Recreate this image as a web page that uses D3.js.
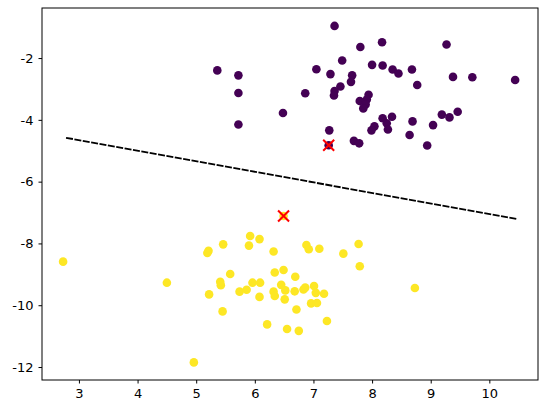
<!DOCTYPE html>
<html><head><meta charset="utf-8">
<script src="https://cdn.jsdelivr.net/npm/d3@7"></script>
<style>body{margin:0;background:#fff}text{font-family:"DejaVu Sans",sans-serif;font-size:13px}</style>
</head><body><div class="graphic"></div>
<script>
// cluster 0 (purple)
const purpleX = [7.36,7.80,8.17,9.27,5.36,5.72,5.72,5.72,7.05,7.29,7.49,8.00,8.18,8.35,8.45,8.68,8.77,9.38,9.71,10.44,6.86,7.66,7.64,7.46,7.36,7.35,7.94,7.91,7.79,7.89,7.85,6.48,8.18,8.34,8.25,8.27,8.69,8.04,7.99,7.27,9.19,9.32,9.46,9.04,8.64,8.94,7.69,7.78,7.26];
const purpleY = [-0.96,-1.64,-1.49,-1.56,-2.40,-2.56,-3.13,-4.15,-2.36,-2.52,-2.08,-2.22,-2.24,-2.37,-2.50,-2.37,-2.87,-2.61,-2.62,-2.71,-3.14,-2.56,-2.77,-2.92,-3.07,-3.21,-3.19,-3.34,-3.39,-3.50,-3.63,-3.78,-3.95,-3.90,-4.11,-4.31,-4.05,-4.21,-4.34,-4.34,-3.83,-3.92,-3.74,-4.17,-4.49,-4.83,-4.68,-4.76,-4.82];
// cluster 1 (yellow)
const yellowX = [2.73,5.92,6.08,5.46,5.90,5.21,5.19,6.32,6.88,6.92,7.10,7.77,7.51,7.79,8.73,4.50,5.58,5.41,5.42,5.96,6.09,5.22,5.74,5.86,6.08,5.45,6.34,6.49,6.69,6.45,6.52,6.32,6.34,6.51,6.68,6.83,6.86,7.01,7.04,7.18,6.96,7.06,6.71,7.23,6.21,6.55,6.75,4.96,6.49];
const yellowY = [-8.59,-7.76,-7.86,-8.03,-8.07,-8.24,-8.31,-8.26,-8.05,-8.19,-8.17,-8.02,-8.33,-8.74,-9.44,-9.27,-8.99,-9.24,-9.35,-9.27,-9.27,-9.65,-9.56,-9.50,-9.73,-10.20,-8.94,-8.86,-9.08,-9.34,-9.52,-9.56,-9.70,-9.81,-9.55,-9.49,-9.43,-9.38,-9.60,-9.63,-9.94,-9.93,-10.14,-10.51,-10.62,-10.77,-10.83,-11.85,-7.11];
// centers (red x)
const centerX = [7.26, 6.49];
const centerY = [-4.82, -7.11];
// boundary line (dashed)
const lineX = [2.78, 10.47];
const lineY = [-4.58, -7.21];
const xTicks = [3,4,5,6,7,8,9,10];
const yTicks = [-2,-4,-6,-8,-10,-12];

const width = 547, height = 413;
const margin = {top: 8, right: 9, bottom: 33, left: 42};

const svg = d3.select(".graphic").append("svg").attr("width", width).attr("height", height);

const x = d3.scaleLinear().domain([2.37, 10.83]).range([margin.left, width - margin.right]);
const y = d3.scaleLinear().domain([-12.42, -0.38]).range([height - margin.bottom, margin.top]);

svg.append("g").attr("transform", `translate(0,${height - margin.bottom})`)
  .call(d3.axisBottom(x).tickValues(xTicks).tickSize(3.5).tickPadding(5).tickFormat(d3.format("d")))
  .call(g => g.select(".domain").remove());
svg.append("g").attr("transform", `translate(${margin.left},0)`)
  .call(d3.axisLeft(y).tickValues(yTicks).tickSize(3.5).tickPadding(5).tickFormat(d => d3.format("d")(d).replace("−","-")))
  .call(g => g.select(".domain").remove());
svg.selectAll(".tick text").attr("fill", "#000").style("font-size", "13px");

const lineData = lineX.map((v, i) => [v, lineY[i]]);
svg.append("path").attr("d", d3.line().x(d => x(d[0])).y(d => y(d[1]))(lineData))
  .attr("stroke", "#000").attr("stroke-width", 1.8).attr("stroke-dasharray", "7,1.5").attr("fill", "none");

svg.selectAll(".p0").data(purpleX.map((v, i) => [v, purpleY[i]])).join("circle")
  .attr("cx", d => x(d[0])).attr("cy", d => y(d[1])).attr("r", 4.3).attr("fill", "#440154");
svg.selectAll(".p1").data(yellowX.map((v, i) => [v, yellowY[i]])).join("circle")
  .attr("cx", d => x(d[0])).attr("cy", d => y(d[1])).attr("r", 4.3).attr("fill", "#fde725");

svg.selectAll(".c").data(centerX.map((v, i) => [v, centerY[i]])).join("path")
  .attr("d", d => { const cx = x(d[0]), cy = y(d[1]), s = 5.5;
    return `M${cx-s},${cy-s}L${cx+s},${cy+s}M${cx-s},${cy+s}L${cx+s},${cy-s}`; })
  .attr("stroke", "red").attr("stroke-width", 2).attr("fill", "none");

svg.append("rect").attr("x", margin.left).attr("y", margin.top)
  .attr("width", width - margin.left - margin.right).attr("height", height - margin.top - margin.bottom)
  .attr("fill", "none").attr("stroke", "#000").attr("stroke-width", 1);
</script></body></html>
